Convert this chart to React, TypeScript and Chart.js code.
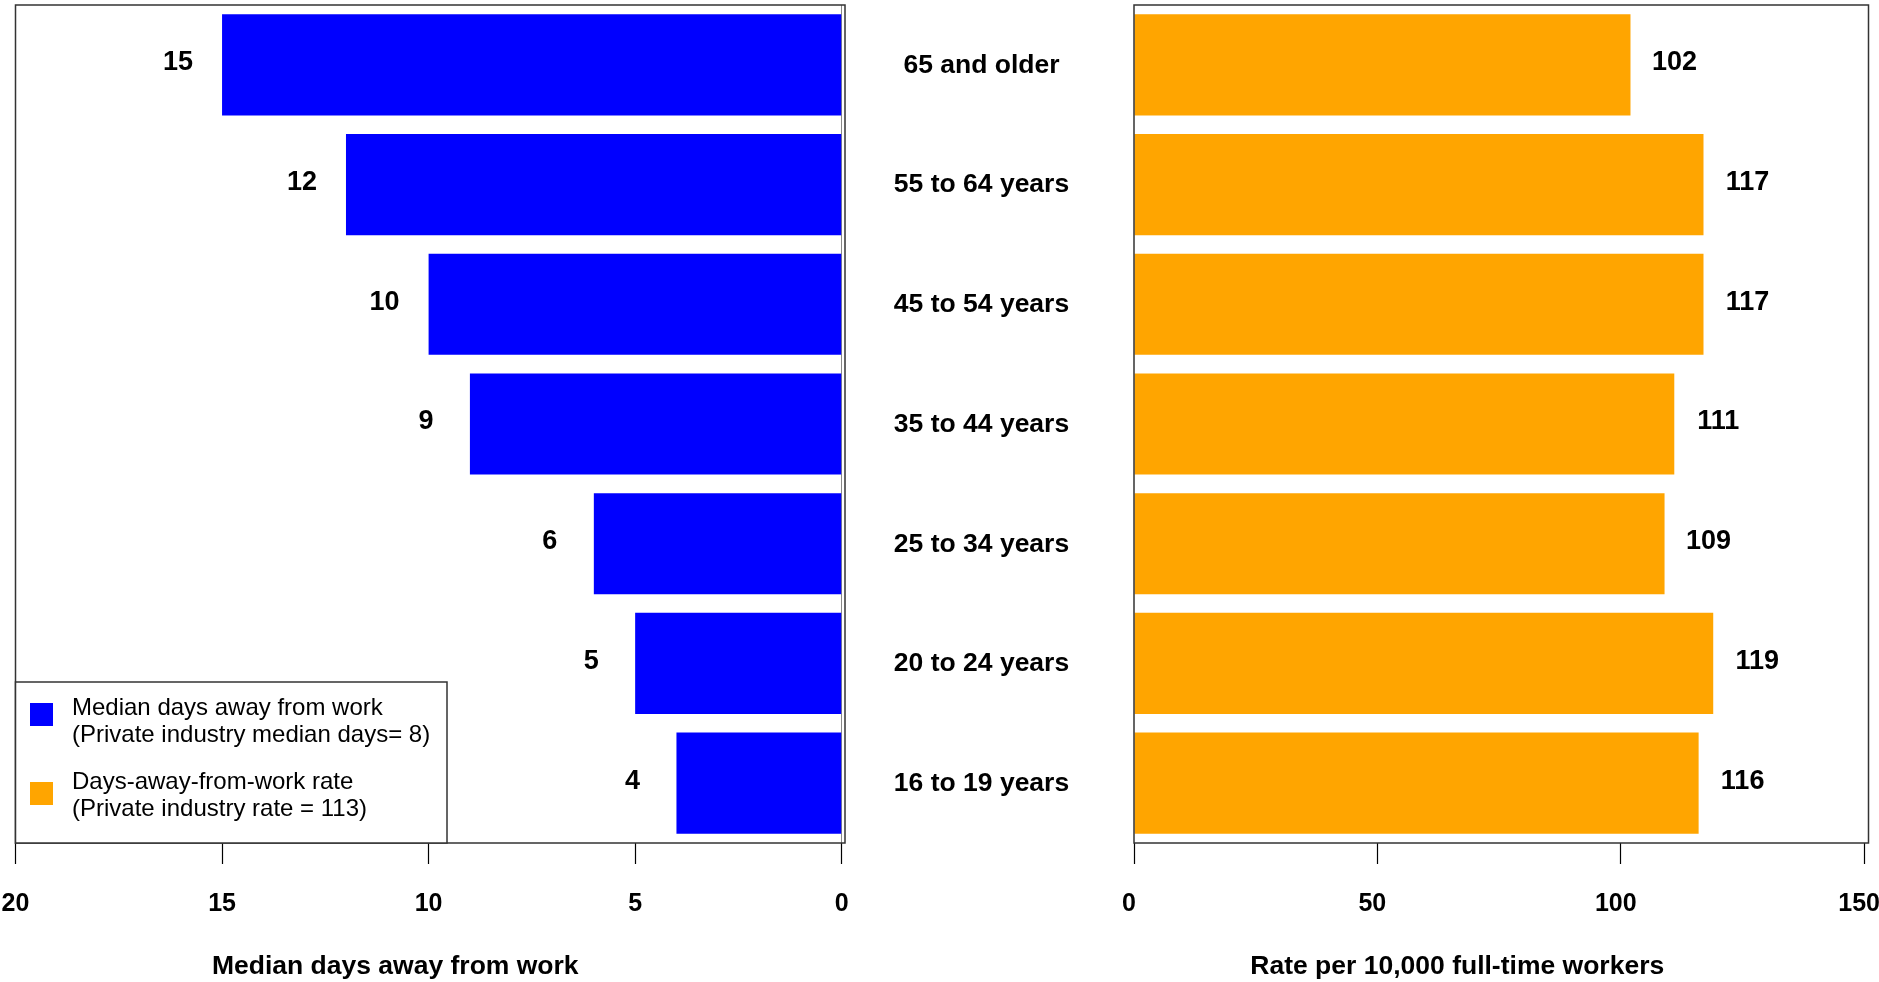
import React, { useEffect, useRef } from 'react';
import { Chart, registerables } from 'chart.js';

Chart.register(...registerables);

const categories = [
  '65 and older',
  '55 to 64 years',
  '45 to 54 years',
  '35 to 44 years',
  '25 to 34 years',
  '20 to 24 years',
  '16 to 19 years',
];
const medianDays = [15, 12, 10, 9, 6, 5, 4];
const rates = [102, 117, 117, 111, 109, 119, 116];
const daysTicks = [0, 5, 10, 15, 20];
const rateTicks = [0, 50, 100, 150];
const daysTitle = 'Median days away from work';
const rateTitle = 'Rate per 10,000 full-time workers';
const legendBlue = ['Median days away from work', '(Private industry median days= 8)'];
const legendOrange = ['Days-away-from-work rate', '(Private industry rate = 113)'];

const BLUE = '#0000FF';
const ORANGE = '#FFA500';
const FONT = '"Liberation Sans", Arial, Helvetica, sans-serif';

const boxPlugin = {
  id: 'boxPlugin',
  afterDatasetsDraw(chart: any) {
    const { ctx, chartArea: a } = chart;
    ctx.save();
    ctx.strokeStyle = '#333';
    ctx.lineWidth = 1.5;
    ctx.strokeRect(a.left, a.top, a.right - a.left, a.bottom - a.top);
    ctx.restore();
  },
};

function valueLabelPlugin(dir: number) {
  return {
    id: 'valueLabels' + dir,
    afterDatasetsDraw(chart: any) {
      const { ctx } = chart;
      const xs = chart.scales.x;
      const ys = chart.scales.y;
      const data = chart.data.datasets[0].data as number[];
      ctx.save();
      ctx.font = `bold 27px ${FONT}`;
      ctx.fillStyle = '#000';
      ctx.textAlign = 'center';
      ctx.textBaseline = 'middle';
      data.forEach((v, i) => {
        ctx.fillText(String(v), xs.getPixelForValue(v) + dir * 44, ys.getPixelForValue(i) - 2);
      });
      ctx.restore();
    },
  };
}

function titlePlugin(text: string, offset: number) {
  return {
    id: 'axisTitle',
    afterDraw(chart: any) {
      const { ctx, chartArea: a } = chart;
      ctx.save();
      ctx.font = `bold 26.5px ${FONT}`;
      ctx.fillStyle = '#000';
      ctx.textAlign = 'center';
      ctx.textBaseline = 'middle';
      ctx.fillText(text, (a.left + a.right) / 2 + offset, 967);
      ctx.restore();
    },
  };
}

const categoryPlugin = {
  id: 'categoryLabels',
  afterDraw(chart: any) {
    const { ctx, chartArea: a } = chart;
    const ys = chart.scales.y;
    ctx.save();
    ctx.font = `bold 26.5px ${FONT}`;
    ctx.fillStyle = '#000';
    ctx.textAlign = 'center';
    ctx.textBaseline = 'middle';
    categories.forEach((c, i) => {
      ctx.fillText(c, a.right + 136.5, ys.getPixelForValue(i) + 0.5);
    });
    ctx.restore();
  },
};

const legendPlugin = {
  id: 'legendBox',
  afterDraw(chart: any) {
    const { ctx, chartArea: a } = chart;
    const left = a.left;
    const bottom = a.bottom;
    const w = 431.5;
    const h = 161;
    const top = bottom - h;
    ctx.save();
    ctx.fillStyle = '#fff';
    ctx.fillRect(left, top, w, h);
    ctx.strokeStyle = '#333';
    ctx.lineWidth = 1.5;
    ctx.strokeRect(left, top, w, h);
    ctx.fillStyle = BLUE;
    ctx.fillRect(left + 14.5, top + 32.5 - 11.5, 23, 23);
    ctx.fillStyle = ORANGE;
    ctx.fillRect(left + 14.5, top + 111.5 - 11.5, 23, 23);
    ctx.fillStyle = '#000';
    ctx.font = `24px ${FONT}`;
    ctx.textAlign = 'left';
    ctx.textBaseline = 'middle';
    ctx.fillText(legendBlue[0], left + 56.5, top + 26);
    ctx.fillText(legendBlue[1], left + 56.5, top + 53);
    ctx.fillText(legendOrange[0], left + 56.5, top + 100);
    ctx.fillText(legendOrange[1], left + 56.5, top + 127);
    ctx.restore();
  },
};

function axisOptions(
  min: number,
  max: number,
  ticks: number[],
  reverse: boolean,
  zeroLine: boolean,
  labelOffset: number
) {
  return {
    type: 'linear',
    position: 'bottom',
    min,
    max,
    reverse,
    afterBuildTicks(axis: any) {
      axis.ticks = ticks.map((v) => ({ value: v }));
    },
    afterFit(axis: any) {
      axis.paddingLeft = 0;
      axis.paddingRight = 0;
    },
    border: { display: false },
    grid: {
      drawOnChartArea: zeroLine,
      drawTicks: true,
      tickLength: 21,
      tickColor: '#000',
      tickWidth: 1.2,
      lineWidth: 1,
      color: (c: any) => (zeroLine && c.tick && c.tick.value === 0 ? '#888' : 'rgba(0,0,0,0)'),
    },
    ticks: {
      autoSkip: false,
      maxRotation: 0,
      minRotation: 0,
      padding: 25,
      labelOffset,
      color: '#000',
      font: { family: FONT, size: 25, weight: 'bold' },
    },
    title: { display: false },
  };
}

export default function App() {
  const leftRef = useRef<HTMLCanvasElement>(null);
  const rightRef = useRef<HTMLCanvasElement>(null);

  useEffect(() => {
    const left = new Chart(leftRef.current as HTMLCanvasElement, {
      type: 'bar',
      data: {
        labels: categories,
        datasets: [
          {
            label: legendBlue[0],
            data: medianDays,
            backgroundColor: BLUE,
            borderWidth: 0,
            categoryPercentage: 0.845,
            barPercentage: 1,
          },
        ],
      },
      options: {
        indexAxis: 'y',
        responsive: false,
        animation: false,
        devicePixelRatio: 1,
        layout: { autoPadding: false, padding: { left: 15.5, right: 265, top: 5, bottom: 38 } },
        plugins: { legend: { display: false }, tooltip: { enabled: false } },
        scales: {
          x: axisOptions(-0.08, 20, daysTicks, true, true, 0) as any,
          y: { type: 'category', display: false },
        },
      } as any,
      plugins: [boxPlugin, valueLabelPlugin(-1), titlePlugin(daysTitle, -35), categoryPlugin, legendPlugin],
    });

    const right = new Chart(rightRef.current as HTMLCanvasElement, {
      type: 'bar',
      data: {
        labels: categories,
        datasets: [
          {
            label: legendOrange[0],
            data: rates,
            backgroundColor: ORANGE,
            borderWidth: 0,
            categoryPercentage: 0.845,
            barPercentage: 1,
          },
        ],
      },
      options: {
        indexAxis: 'y',
        responsive: false,
        animation: false,
        devicePixelRatio: 1,
        layout: { autoPadding: false, padding: { left: 24, right: 10.5, top: 5, bottom: 38 } },
        plugins: { legend: { display: false }, tooltip: { enabled: false } },
        scales: {
          x: axisOptions(0, 150.9, rateTicks, false, false, -5) as any,
          y: { type: 'category', display: false },
        },
      } as any,
      plugins: [boxPlugin, valueLabelPlugin(1), titlePlugin(rateTitle, -44)],
    });

    return () => {
      left.destroy();
      right.destroy();
    };
  }, []);

  return (
    <div
      style={{
        position: 'fixed',
        left: 0,
        top: 0,
        width: 1879,
        height: 982,
        background: '#fff',
        overflow: 'hidden',
      }}
    >
      <canvas
        ref={leftRef}
        width={1110}
        height={982}
        style={{ position: 'absolute', left: 0, top: 0, width: 1110, height: 982, display: 'block' }}
      />
      <canvas
        ref={rightRef}
        width={769}
        height={982}
        style={{ position: 'absolute', left: 1110, top: 0, width: 769, height: 982, display: 'block' }}
      />
    </div>
  );
}
